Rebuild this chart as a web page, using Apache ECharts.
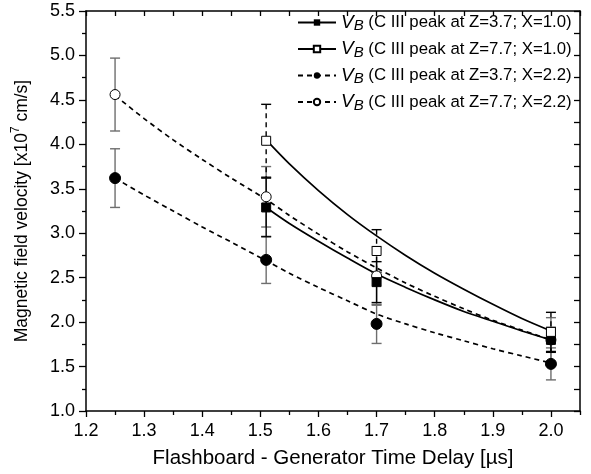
<!DOCTYPE html>
<html>
<head>
<meta charset="utf-8">
<script src="https://cdn.jsdelivr.net/npm/echarts@6/dist/echarts.min.js"></script>
<style>
  html, body { margin: 0; padding: 0; background: #fff; }
  #chart { width: 591px; height: 474px; }
</style>
</head>
<body>
<div id="chart"></div>
<script>
// measured points (x = delay in us, y = velocity in 1e7 cm/s)
var xSquare = [1.51, 1.70, 2.00];
var sqFilled = [3.29, 2.45, 1.80];
var sqFilledErr = [0.33, 0.23, 0.14];
var sqOpen = [4.04, 2.80, 1.89];
var sqOpenErr = [0.41, 0.24, 0.22];

var xCircle = [1.25, 1.51, 1.70, 2.00];
var circFilled = [3.62, 2.70, 1.98, 1.53];
var circFilledErr = [0.33, 0.265, 0.22, 0.18];
var circOpen = [4.56, 3.41, 2.52, 1.80];
var circOpenErr = [0.41, 0.34, 0.33, 0.25];

// fitted curves
var fitXShort = [1.51, 1.55, 1.60, 1.65, 1.70, 1.75, 1.80, 1.85, 1.90, 1.95, 2.00];
var fitSqFilled = [3.29, 3.11, 2.91, 2.72, 2.54, 2.39, 2.25, 2.12, 2.01, 1.90, 1.80];
var fitSqOpen = [4.05, 3.78, 3.48, 3.21, 2.97, 2.75, 2.55, 2.37, 2.20, 2.04, 1.90];
var fitXLong = [1.25, 1.30, 1.35, 1.40, 1.45, 1.51, 1.55, 1.60, 1.65, 1.70, 1.75, 1.80, 1.85, 1.90, 1.95, 2.00];
var fitCircFilled = [3.62, 3.43, 3.25, 3.07, 2.90, 2.69, 2.55, 2.39, 2.24, 2.09, 1.98, 1.88, 1.79, 1.70, 1.62, 1.54];
var fitCircOpen = [4.55, 4.29, 4.05, 3.83, 3.62, 3.38, 3.20, 2.99, 2.79, 2.61, 2.44, 2.29, 2.15, 2.02, 1.91, 1.80];

// axis ticks
var xMajorTicks = [1.2, 1.3, 1.4, 1.5, 1.6, 1.7, 1.8, 1.9, 2.0];
var xMinorTicks = [1.25, 1.35, 1.45, 1.55, 1.65, 1.75, 1.85, 1.95, 2.05];
var xAllTicks = [1.2, 1.25, 1.3, 1.35, 1.4, 1.45, 1.5, 1.55, 1.6, 1.65, 1.7, 1.75, 1.8, 1.85, 1.9, 1.95, 2.0, 2.05];

var seriesNames = ['s1', 's2', 's3', 's4'];
var legendLabels = {
    s1: '(C III peak at Z=3.7; X=1.0)',
    s2: '(C III peak at Z=7.7; X=1.0)',
    s3: '(C III peak at Z=3.7; X=2.2)',
    s4: '(C III peak at Z=7.7; X=2.2)'
};

var FONT = '"Liberation Sans", Arial, sans-serif';

function zip(xs, ys, es) {
    return xs.map(function (x, i) {
        return es ? [x, ys[i], es[i]] : [x, ys[i]];
    });
}

function errorBars(color, dashed) {
    return function (params, api) {
        var x = api.value(0), y = api.value(1), e = api.value(2);
        var top = api.coord([x, y + e]);
        var bot = api.coord([x, y - e]);
        var w = 5;
        var barStyle = {stroke: color, lineWidth: 1.4, lineDash: dashed ? [5, 4] : null};
        var capStyle = {stroke: color, lineWidth: 1.4};
        return {
            type: 'group',
            children: [
                {type: 'line', shape: {x1: top[0], y1: top[1], x2: bot[0], y2: bot[1]}, style: barStyle},
                {type: 'line', shape: {x1: top[0] - w, y1: top[1], x2: top[0] + w, y2: top[1]}, style: capStyle},
                {type: 'line', shape: {x1: bot[0] - w, y1: bot[1], x2: bot[0] + w, y2: bot[1]}, style: capStyle}
            ]
        };
    };
}

var myChart = echarts.init(document.getElementById('chart'));

var axisLine = {show: true, lineStyle: {color: '#000', width: 1.5}};

var option = {
    animation: false,
    backgroundColor: '#fff',
    textStyle: {fontFamily: FONT, color: '#000'},
    grid: {left: 86, right: 11, top: 11, bottom: 62},
    legend: {
        data: seriesNames,
        orient: 'vertical',
        left: 292,
        top: 8,
        itemWidth: 38,
        itemHeight: 8,
        itemGap: 6,
        formatter: function (name) {
            return '{v|V}{b|B}{t| ' + legendLabels[name] + '}';
        },
        textStyle: {
            color: '#000',
            fontFamily: FONT,
            rich: {
                v: {fontStyle: 'italic', fontSize: 19, lineHeight: 22, fontFamily: FONT, color: '#000'},
                b: {fontStyle: 'italic', fontSize: 15, lineHeight: 14, verticalAlign: 'bottom', fontFamily: FONT, color: '#000'},
                t: {fontSize: 16.8, lineHeight: 22, fontFamily: FONT, color: '#000'}
            }
        }
    },
    xAxis: [
        {
            type: 'value',
            min: 1.2,
            max: 2.05,
            position: 'bottom',
            name: 'Flashboard - Generator Time Delay [\u00b5s]',
            nameLocation: 'middle',
            nameGap: 37,
            nameTextStyle: {fontSize: 20.5, color: '#000', fontFamily: FONT},
            axisLine: axisLine,
            axisTick: {show: true, inside: false, length: 6, customValues: xMajorTicks, lineStyle: {color: '#000', width: 1.3}},
            axisLabel: {
                customValues: xMajorTicks, fontSize: 18, color: '#000', margin: 11, fontFamily: FONT,
                formatter: function (v) { return v.toFixed(1); }
            },
            splitLine: {show: false}
        },
        {
            type: 'value',
            min: 1.2,
            max: 2.05,
            position: 'bottom',
            axisLine: {show: false},
            axisTick: {show: true, inside: false, length: 4, customValues: xMinorTicks, lineStyle: {color: '#000', width: 1.3}},
            axisLabel: {show: false},
            splitLine: {show: false}
        },
        {
            type: 'value',
            min: 1.2,
            max: 2.05,
            position: 'top',
            axisLine: axisLine,
            axisTick: {show: true, inside: true, length: 5, customValues: xAllTicks, lineStyle: {color: '#000', width: 1.3}},
            axisLabel: {show: false},
            splitLine: {show: false}
        }
    ],
    yAxis: [
        {
            type: 'value',
            min: 1.0,
            max: 5.5,
            interval: 0.5,
            position: 'left',
            name: 'Magnetic field velocity [x10{sup|7} cm/s]',
            nameLocation: 'middle',
            nameGap: 52,
            nameTextStyle: {
                fontSize: 17.5, color: '#000', fontFamily: FONT, lineHeight: 24,
                rich: {sup: {fontSize: 12, lineHeight: 12, verticalAlign: 'top', color: '#000', fontFamily: FONT}}
            },
            axisLine: axisLine,
            axisTick: {show: true, inside: false, length: 7, lineStyle: {color: '#000', width: 1.3}},
            minorTick: {show: true, splitNumber: 2, length: 4, lineStyle: {color: '#000', width: 1.3}},
            axisLabel: {
                fontSize: 18, color: '#000', margin: 11, fontFamily: FONT,
                formatter: function (v) { return v.toFixed(1); }
            },
            splitLine: {show: false}
        },
        {
            type: 'value',
            min: 1.0,
            max: 5.5,
            interval: 0.5,
            position: 'right',
            axisLine: axisLine,
            axisTick: {show: true, inside: true, length: 6, lineStyle: {color: '#000', width: 1.3}},
            minorTick: {show: true, splitNumber: 2, length: 6, lineStyle: {color: '#000', width: 1.3}},
            axisLabel: {show: false},
            splitLine: {show: false}
        }
    ],
    series: [
        // fitted curves (these carry the legend entries)
        {
            name: 's1', type: 'line', smooth: 0.3, z: 3,
            symbol: 'rect', showSymbol: false, symbolSize: 8,
            itemStyle: {color: '#000', borderColor: '#000'},
            lineStyle: {color: '#000', width: 1.7, type: 'solid'},
            data: zip(fitXShort, fitSqFilled)
        },
        {
            name: 's2', type: 'line', smooth: 0.3, z: 3,
            symbol: 'rect', showSymbol: false, symbolSize: 8,
            itemStyle: {color: '#fff', borderColor: '#000', borderWidth: 1},
            lineStyle: {color: '#000', width: 1.7, type: 'solid'},
            data: zip(fitXShort, fitSqOpen)
        },
        {
            name: 's3', type: 'line', smooth: 0.3, z: 3,
            symbol: 'circle', showSymbol: false, symbolSize: 8,
            itemStyle: {color: '#000', borderColor: '#000'},
            lineStyle: {color: '#000', width: 1.7, type: [5, 4]},
            data: zip(fitXLong, fitCircFilled)
        },
        {
            name: 's4', type: 'line', smooth: 0.3, z: 3,
            symbol: 'circle', showSymbol: false, symbolSize: 8,
            itemStyle: {color: '#fff', borderColor: '#000', borderWidth: 1},
            lineStyle: {color: '#000', width: 1.7, type: [5, 4]},
            data: zip(fitXLong, fitCircOpen)
        },
        // error bars
        {
            type: 'custom', z: 2, renderItem: errorBars('#6e6e6e', false),
            encode: {x: 0, y: 1}, data: zip(xCircle, circFilled, circFilledErr)
        },
        {
            type: 'custom', z: 2, renderItem: errorBars('#6e6e6e', false),
            encode: {x: 0, y: 1}, data: zip(xCircle, circOpen, circOpenErr)
        },
        {
            type: 'custom', z: 2, renderItem: errorBars('#000', false),
            encode: {x: 0, y: 1}, data: zip(xSquare, sqFilled, sqFilledErr)
        },
        {
            type: 'custom', z: 2, renderItem: errorBars('#000', true),
            encode: {x: 0, y: 1}, data: zip(xSquare, sqOpen, sqOpenErr)
        },
        // markers
        {
            type: 'scatter', z: 5, symbol: 'circle', symbolSize: 11,
            itemStyle: {color: '#000', borderColor: '#000', borderWidth: 1, opacity: 1},
            data: zip(xCircle, circFilled)
        },
        {
            type: 'scatter', z: 5, symbol: 'circle', symbolSize: 10,
            itemStyle: {color: '#fff', borderColor: '#000', borderWidth: 1, opacity: 1},
            data: zip(xCircle, circOpen)
        },
        {
            type: 'scatter', z: 5, symbol: 'rect', symbolSize: 9,
            itemStyle: {color: '#000', borderColor: '#000', borderWidth: 1, opacity: 1},
            data: zip(xSquare, sqFilled)
        },
        {
            type: 'scatter', z: 5, symbol: 'rect', symbolSize: 9,
            itemStyle: {color: '#fff', borderColor: '#000', borderWidth: 1, opacity: 1},
            data: zip(xSquare, sqOpen)
        }
    ]
};

myChart.setOption(option);
</script>
</body>
</html>
